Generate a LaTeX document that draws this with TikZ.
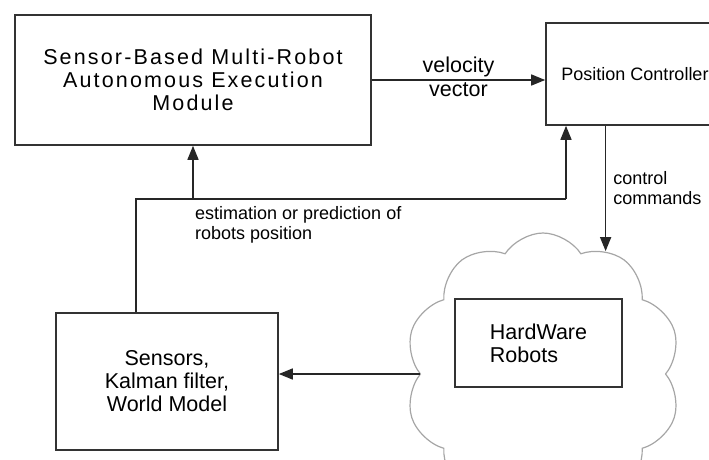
\documentclass[tikz,border=0pt]{standalone}
\usepackage{fontspec}
\setmainfont{Liberation Sans}
\usetikzlibrary{arrows.meta,shapes.symbols}

\tikzset{
  every node/.style={font=\fontsize{21.5}{23}\selectfont, align=center},
  block/.style={draw=black!80, line width=1.6pt, inner sep=0pt},
  smalltext/.style={font=\fontsize{18}{20}\selectfont},
  link/.style={draw=black!85, line width=1.5pt},
  arrow/.style={link, -{Triangle[length=14pt,width=11pt]}},
  puff/.style={cloud, cloud puffs=10, cloud puff arc=115, cloud ignores aspect,
    draw=black!35, line width=1.2pt, inner sep=0pt}
}

\begin{document}
\begin{tikzpicture}[x=1pt,y=-1pt]
      \useasboundingbox (0,0) rectangle (709,459);

      \node [block, minimum width=356pt, minimum height=130pt] (aem) at (193,80)
        {\addfontfeature{LetterSpace=10}Sensor-Based Multi-Robot\\
         \addfontfeature{LetterSpace=10}Autonomous Execution\\
         \addfontfeature{LetterSpace=10}Module};
      \node [block, smalltext, minimum width=178pt, minimum height=102pt] (pc) at (635,74) {Position Controller};
      \node [puff, minimum width=276pt, minimum height=282pt] (cloud) at (543,374) {};
      \node [block, minimum width=167pt, minimum height=88pt, align=left] (hw) at (538.5,343) {HardWare\\Robots};
      \node [block, minimum width=222pt, minimum height=137pt] (sens) at (167,381.5)
        {Sensors,\\Kalman filter,\\World Model};

      % feedback from the world model
      \coordinate (split) at (136,199);
      \coordinate (tap) at (566,199);

      \draw [arrow] (aem.east) -- (aem.east -| pc.west)
        node [midway, above, inner sep=2pt] {velocity}
        node [midway, below, inner sep=2pt] {vector};
      \draw [arrow] (pc.south -| cloud.63) -- (cloud.63)
        node [midway, right, smalltext, align=left, inner sep=7pt] {control\\commands};
      \draw [arrow] (cloud.west) -- (cloud.west -| sens.east);
      \draw [link] (sens.north -| split) -- (split) -- (tap);
      \draw [arrow] (tap) -- (tap |- pc.south);
      \draw [arrow] (split -| aem.south) -- (aem.south);
      \node [smalltext, align=left, anchor=north west, inner sep=0pt] (est) at (195,206)
        {estimation or prediction of\\robots position};
    \end{tikzpicture}
\end{document}
